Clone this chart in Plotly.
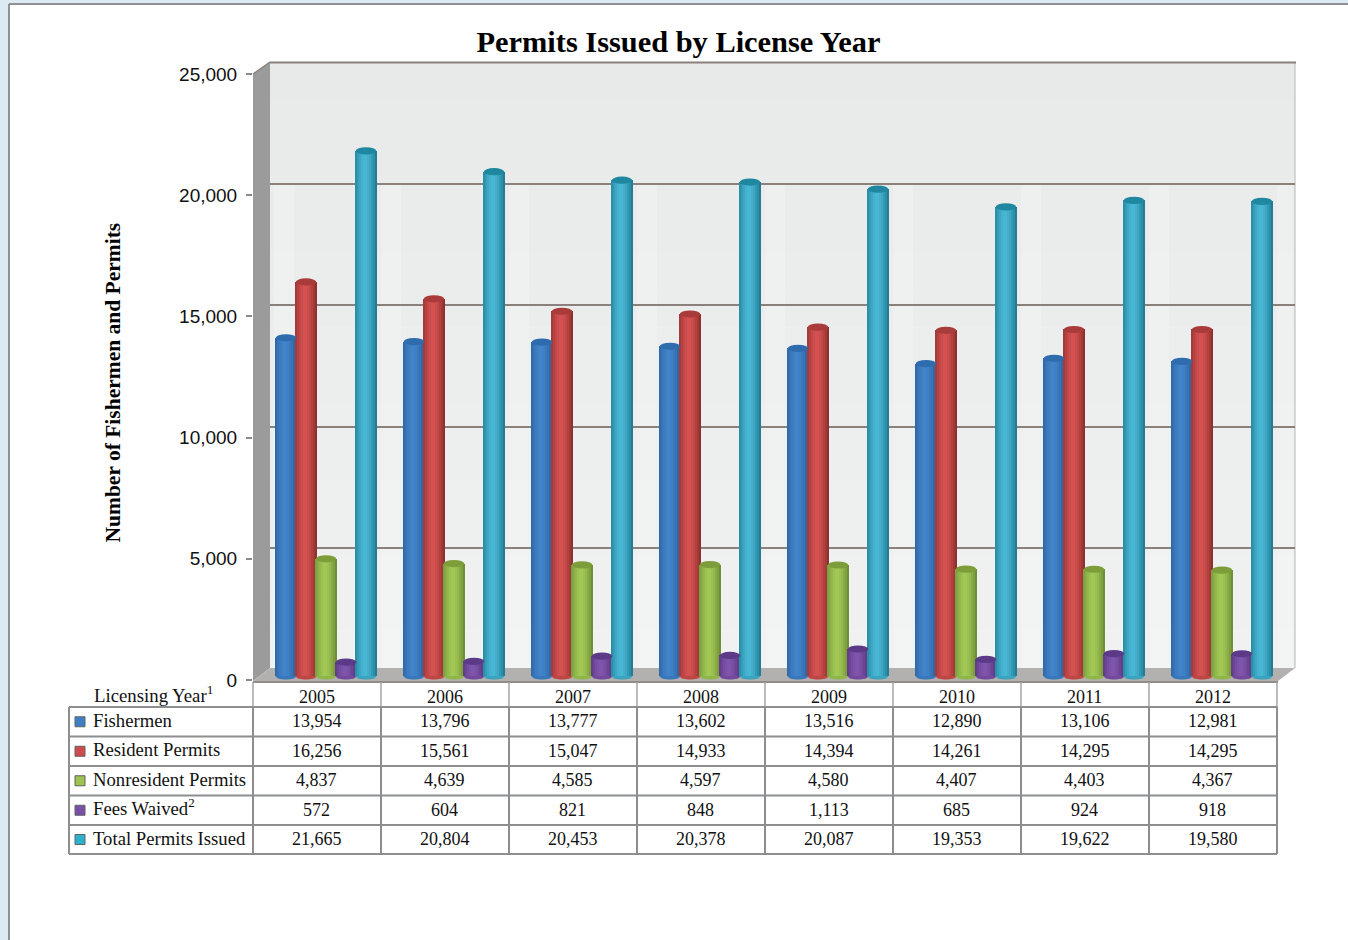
import plotly.graph_objects as go

# Permit counts by licensing year
years = [2005, 2006, 2007, 2008, 2009, 2010, 2011, 2012]
fishermen = [13954, 13796, 13777, 13602, 13516, 12890, 13106, 12981]
resident = [16256, 15561, 15047, 14933, 14394, 14261, 14295, 14295]
nonresident = [4837, 4639, 4585, 4597, 4580, 4407, 4403, 4367]
fees_waived = [572, 604, 821, 848, 1113, 685, 924, 918]
total_issued = [21665, 20804, 20453, 20378, 20087, 19353, 19622, 19580]
row_labels = ["Fishermen", "Resident Permits", "Nonresident Permits",
              "Fees Waived<sup>2</sup>", "Total Permits Issued"]
y_ticks = [0, 5000, 10000, 15000, 20000, 25000]

rows = [fishermen, resident, nonresident, fees_waived, total_issued]

W, H = 1348, 940
SERIF = "Liberation Serif, Times New Roman, serif"
SANS = "Liberation Sans, Arial, sans-serif"
GRID = "#8b807b"
TABLE_LINE = "#8c8e90"

# edge tone, centre tone, cap tone for each cylinder colour
tones = [
    ((0x26, 0x5a, 0x94), (0x42, 0x84, 0xcb), "#2f6cad"),
    ((0x86, 0x2a, 0x2b), (0xd4, 0x52, 0x50), "#a93b3b"),
    ((0x68, 0x87, 0x30), (0xa2, 0xc8, 0x56), "#7d9d3a"),
    ((0x4e, 0x30, 0x72), (0x80, 0x55, 0xae), "#5d3a88"),
    ((0x1a, 0x74, 0x8c), (0x48, 0xb7, 0xd5), "#1f87a0"),
]
swatches = ["#3f7fc4", "#cf4a4a", "#9dc34f", "#7a4fa6", "#2fb0cf"]


def fx(px):
    return px / W


def fy(py):
    return 1 - py / H


def poly(points, fill, layer="below", line=None):
    path = "M " + " L ".join(f"{fx(x):.5f} {fy(y):.5f}" for x, y in points) + " Z"
    return dict(type="path", xref="paper", yref="paper", path=path, fillcolor=fill,
                line=dict(width=0) if line is None else line, layer=layer)


def rect(x0, y0, x1, y1, fill, layer="below"):
    return dict(type="rect", xref="paper", yref="paper", x0=fx(x0), x1=fx(x1),
                y0=fy(y1), y1=fy(y0), fillcolor=fill, line=dict(width=0), layer=layer)


def seg(x0, y0, x1, y1, color=TABLE_LINE, width=2, layer="above"):
    return dict(type="line", xref="paper", yref="paper", x0=fx(x0), x1=fx(x1),
                y0=fy(y0), y1=fy(y1), line=dict(color=color, width=width), layer=layer)


def mix(a, b, t):
    return "rgb(%d,%d,%d)" % tuple(round(a[i] + (b[i] - a[i]) * t) for i in range(3))


fig = go.Figure()
shapes = []
notes = []

# Page panel
shapes.append(rect(0, 0, W, H, "#dcebf3"))
shapes.append(rect(9, 4, W, H, "#ffffff"))
shapes.append(seg(9, 4, W, 4, "#8f9294", 2, "below"))
shapes.append(seg(9, 4, 9, H, "#8f9294", 2, "below"))

# Back wall as stacked tints, side wall and floor of the chart box
wall_top, wall_bottom = (0xe8, 0xea, 0xea), (0xf0, 0xf2, 0xf2)
bands = 16
for b in range(bands):
    y0 = 62 + (668 - 62) * b / bands
    y1 = 62 + (668 - 62) * (b + 1) / bands
    shapes.append(rect(270, y0, 1295, y1 + 0.5, mix(wall_top, wall_bottom, b / (bands - 1))))
# paler strips on the wall between the year groups
for i in range(8):
    left = 377 + 128 * (i - 1) if i else 270
    shapes.append(rect(left + 4, 184, left + 24, 668, "rgba(255,255,255,0.2)"))
shapes.append(rect(1273 + 4, 184, 1293, 668, "rgba(255,255,255,0.2)"))
shapes.append(seg(1295, 62, 1295, 668, "#b5b5b5", 1, "below"))
shapes.append(poly([(253, 74), (270, 62), (270, 668), (253, 681)], "#9b9b9b"))
shapes.append(poly([(253, 681), (270, 668), (1295, 668), (1278, 681)], "#b3b1af"))
shapes.append(seg(253, 74, 270, 62, GRID, 1.5, "below"))
shapes.append(seg(270, 62.5, 1296, 62.5, GRID, 2, "below"))
shapes.append(seg(253, 682, 1278, 682, "#8f8c8a", 2, "below"))

# Cylinders: each one is a run of narrow bars shaded from edge to centre
BAR_PITCH = 20 / 128
BAR_WIDTH = 21.5 / 128
CAP_WIDTH = 20.5 / 128
SLICES = 11
UNITS_PER_PX = 25000 / 606
CAP_RY = 3.6 * UNITS_PER_PX
cat_x = [i + 0.5 for i in range(len(years))]

# The wall and front-edge axes carry no marks of their own
fig.add_trace(go.Scatter(x=cat_x, y=total_issued, mode="none", showlegend=False, hoverinfo="skip"))
fig.add_trace(go.Scatter(x=cat_x, y=total_issued, mode="none", showlegend=False, hoverinfo="skip",
                         xaxis="x3", yaxis="y3"))

for s, values in enumerate(rows):
    edge, centre, cap = tones[s]
    for k in range(SLICES):
        pos = (k + 0.5) / SLICES
        shade = 1 - (abs(pos - 0.45) / 0.55) ** 1.6
        fig.add_trace(go.Bar(
            x=[c + (s - 2) * BAR_PITCH + (pos - 0.5) * BAR_WIDTH for c in cat_x],
            y=values,
            width=BAR_WIDTH / SLICES * 1.25,
            marker=dict(color=mix(edge, centre, shade), line=dict(width=0)),
            xaxis="x2", yaxis="y2", showlegend=False, hoverinfo="skip",
        ))
    for c, v in zip(cat_x, values):
        cx = c + (s - 2) * BAR_PITCH
        left, right = cx - CAP_WIDTH / 2, cx + CAP_WIDTH / 2
        shapes.append(dict(type="circle", xref="x2", yref="y2", x0=left, x1=right,
                           y0=v - CAP_RY, y1=v + CAP_RY,
                           fillcolor=cap, line=dict(width=0), layer="above"))
        # rounded foot: lower half of an ellipse under the bar
        foot = -CAP_RY * 4 / 3
        shapes.append(dict(type="path", xref="x2", yref="y2",
                           path=f"M {left:.4f} 0 C {left:.4f} {foot:.1f} {right:.4f} {foot:.1f} {right:.4f} 0 Z",
                           fillcolor=mix(edge, centre, 0.7), line=dict(width=0), layer="above"))

# Data table under the plot
col_x = [253 + 128 * i for i in range(len(years) + 1)]
row_y = [707, 736.5, 766, 795.5, 825, 854]
for x in col_x:
    shapes.append(seg(x, 682, x, 707, "#a3a5a7", 1.5))
shapes.append(seg(69, row_y[0], 69, row_y[-1]))
for x in col_x:
    shapes.append(seg(x, row_y[0], x, row_y[-1]))
for y in row_y:
    shapes.append(seg(69, y, col_x[-1], y))


def text(x, y, s, anchor="center", size=18, color="#111111", angle=0):
    notes.append(dict(xref="paper", yref="paper", x=fx(x), y=fy(y), text=s, showarrow=False,
                      xanchor=anchor, yanchor="middle", textangle=angle,
                      font=dict(family=SERIF, size=size, color=color), borderpad=0))


text(93, 694, "Licensing Year<sup>1</sup>", "left", 18.8)
for i, yr in enumerate(years):
    text(col_x[i] + 63.5, 697, str(yr))
for r, label in enumerate(row_labels):
    cy = (row_y[r] + row_y[r + 1]) / 2
    shapes.append(dict(type="rect", xref="paper", yref="paper",
                       x0=fx(75), x1=fx(85), y0=fy(cy + 5), y1=fy(cy - 5),
                       fillcolor=swatches[r], line=dict(color="#5f6366", width=1), layer="above"))
    text(92, cy - (3.5 if "<sup>" in label else 1.5), label, "left", 18.7)
    for i, v in enumerate(rows[r]):
        text(col_x[i] + 63.5, cy - 0.5, f"{v:,}")
text(112, 382.5, "<b>Number of Fishermen and Permits</b>", "center", 21.5, "#000000", -90)


def domain_x(a, b):
    return [fx(a), fx(b)]


def domain_y(top, bottom):
    return [fy(bottom), fy(top)]


fig.update_layout(
    width=W, height=H, autosize=False,
    margin=dict(l=0, r=0, t=0, b=0, autoexpand=False),
    paper_bgcolor="#ffffff", plot_bgcolor="rgba(0,0,0,0)",
    barmode="overlay", bargap=0,
    shapes=shapes, annotations=notes,
    title=dict(text="<b>Permits Issued by License Year</b>", x=678.5 / W, xanchor="center",
               y=fy(41), yanchor="middle",
               font=dict(family=SERIF, size=30.4, color="#000000")),
    # back wall: gridlines only
    xaxis=dict(domain=domain_x(270, 1295), range=[0, 8], visible=False),
    yaxis=dict(domain=domain_y(63, 669), range=[0, 25000], tickvals=y_ticks, showgrid=True,
               gridcolor=GRID, gridwidth=2, showticklabels=False, ticks="",
               zeroline=False, showline=False),
    # cylinders, set slightly into the box; the axis runs a little below zero for the feet
    xaxis2=dict(domain=domain_x(262, 1286), range=[0, 8], visible=False, anchor="y2"),
    yaxis2=dict(domain=domain_y(70, 682), range=[-6 * UNITS_PER_PX, 25000], visible=False, anchor="x2"),
    # front edge carrying the value scale
    xaxis3=dict(domain=domain_x(253, 1277), range=[0, 8], visible=False, anchor="y3"),
    yaxis3=dict(domain=domain_y(74, 680), range=[0, 25000], anchor="x3",
                tickvals=y_ticks, tickformat=",d", showgrid=False, zeroline=False,
                showline=False, ticks="outside", ticklen=6, tickwidth=1.5,
                tickcolor="#8a8a8a", ticklabelstandoff=5,
                tickfont=dict(family=SANS, size=19, color="#111111")),
)

fig.write_html("out.html")
